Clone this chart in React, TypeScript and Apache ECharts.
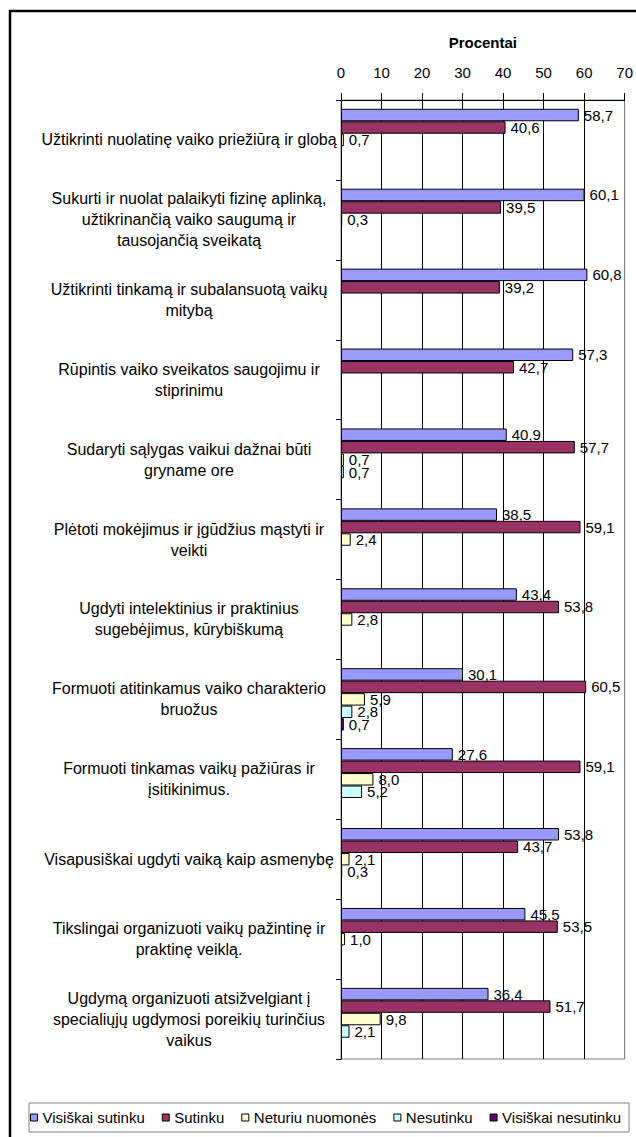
import React, { useEffect, useRef } from "react";
import * as echarts from "echarts";

const categories = [
  "Užtikrinti nuolatinę vaiko priežiūrą ir globą",
  "Sukurti ir nuolat palaikyti fizinę aplinką,\nužtikrinančią vaiko saugumą ir\ntausojančią sveikatą",
  "Užtikrinti tinkamą ir subalansuotą vaikų\nmitybą",
  "Rūpintis vaiko sveikatos saugojimu ir\nstiprinimu",
  "Sudaryti sąlygas vaikui dažnai būti\ngryname ore",
  "Plėtoti mokėjimus ir įgūdžius mąstyti ir\nveikti",
  "Ugdyti intelektinius ir praktinius\nsugebėjimus, kūrybiškumą",
  "Formuoti atitinkamus vaiko charakterio\nbruožus",
  "Formuoti tinkamas vaikų pažiūras ir\nįsitikinimus.",
  "Visapusiškai ugdyti vaiką kaip asmenybę",
  "Tikslingai organizuoti vaikų pažintinę ir\npraktinę veiklą.",
  "Ugdymą organizuoti atsižvelgiant į\nspecialiųjų ugdymosi poreikių turinčius\nvaikus",
];

const seriesNames = [
  "Visiškai sutinku",
  "Sutinku",
  "Neturiu nuomonės",
  "Nesutinku",
  "Visiškai nesutinku",
];

const visiskaiSutinku = [58.7, 60.1, 60.8, 57.3, 40.9, 38.5, 43.4, 30.1, 27.6, 53.8, 45.5, 36.4];
const sutinku = [40.6, 39.5, 39.2, 42.7, 57.7, 59.1, 53.8, 60.5, 59.1, 43.7, 53.5, 51.7];
const neturiuNuomones = [0.7, 0.3, null, null, 0.7, 2.4, 2.8, 5.9, 8.0, 2.1, 1.0, 9.8];
const nesutinku = [null, null, null, null, 0.7, null, null, 2.8, 5.2, 0.3, null, 2.1];
const visiskaiNesutinku = [null, null, null, null, null, null, null, 0.7, null, null, null, null];

const xTicks = [0, 10, 20, 30, 40, 50, 60, 70];
const colors = ["#9999FF", "#993366", "#FFFFCC", "#CCFFFF", "#660066"];

const FONT = "'Liberation Sans', Arial, sans-serif";

export default function App() {
  const ref = useRef<HTMLDivElement>(null);
  useEffect(() => {
    if (!ref.current) return;
    const chart = echarts.init(ref.current, undefined, { renderer: "svg" });
    const allData = [visiskaiSutinku, sutinku, neturiuNuomones, nesutinku, visiskaiNesutinku];
    const splitColors = xTicks.map((t, i) => (i === xTicks.length - 1 ? "#808080" : "#000000"));
    chart.setOption({
      animation: false,
      backgroundColor: "#ffffff",
      textStyle: { fontFamily: FONT },
      graphic: [
        {
          type: "rect",
          shape: { x: 10, y: 11, width: 800, height: 1300 },
          style: { fill: "none", stroke: "#000", lineWidth: 2.5 },
          silent: true,
          z: 100,
        },
      ],
      grid: {
        left: 341,
        right: 11,
        top: 100,
        bottom: 78,
        show: true,
        borderColor: "#808080",
        borderWidth: 1,
        backgroundColor: "#ffffff",
      },
      legend: {
        left: 29,
        top: 1103,
        data: seriesNames,
        icon: "rect",
        itemWidth: 7,
        itemHeight: 7,
        itemGap: 17,
        padding: [7, 8, 7, 1],
        borderColor: "#808080",
        borderWidth: 1,
        textStyle: { fontSize: 15, color: "#000", fontFamily: FONT },
        itemStyle: { borderColor: "#000", borderWidth: 1 },
      },
      xAxis: {
        type: "value",
        position: "top",
        min: 0,
        max: 70,
        interval: 10,
        name: "Procentai",
        nameLocation: "middle",
        nameGap: 50,
        nameTextStyle: { fontWeight: "bold", fontSize: 15, color: "#000", fontFamily: FONT },
        axisLine: { show: true, lineStyle: { color: "#000", width: 1 } },
        axisTick: { show: true, length: 7, lineStyle: { color: "#000" } },
        axisLabel: { margin: 20, fontSize: 15, color: "#000", fontFamily: FONT },
        splitLine: { show: true, lineStyle: { color: splitColors, width: 1 } },
      },
      yAxis: {
        type: "category",
        inverse: true,
        data: categories,
        axisLine: { show: true, lineStyle: { color: "#000", width: 1 } },
        axisTick: { show: true, length: 5, lineStyle: { color: "#000" } },
        axisLabel: {
          align: "center",
          margin: 152,
          fontSize: 16,
          lineHeight: 21,
          color: "#000",
          fontFamily: FONT,
          interval: 0,
        },
      },
      series: seriesNames.map((name, i) => ({
        name,
        type: "bar",
        data: allData[i],
        barGap: "0%",
        barCategoryGap: "22%",
        itemStyle: { color: colors[i], borderColor: "#000", borderWidth: 1 },
        label: {
          show: true,
          position: "right",
          distance: 5,
          fontSize: 15,
          color: "#000",
          fontFamily: FONT,
          formatter: (p: any) => (p.value == null ? "" : Number(p.value).toFixed(1).replace(".", ",")),
        },
      })),
    });
    return () => chart.dispose();
  }, []);
  return (
    <div
      ref={ref}
      style={{ position: "fixed", left: 0, top: 0, width: 636, height: 1137 }}
    />
  );
}
